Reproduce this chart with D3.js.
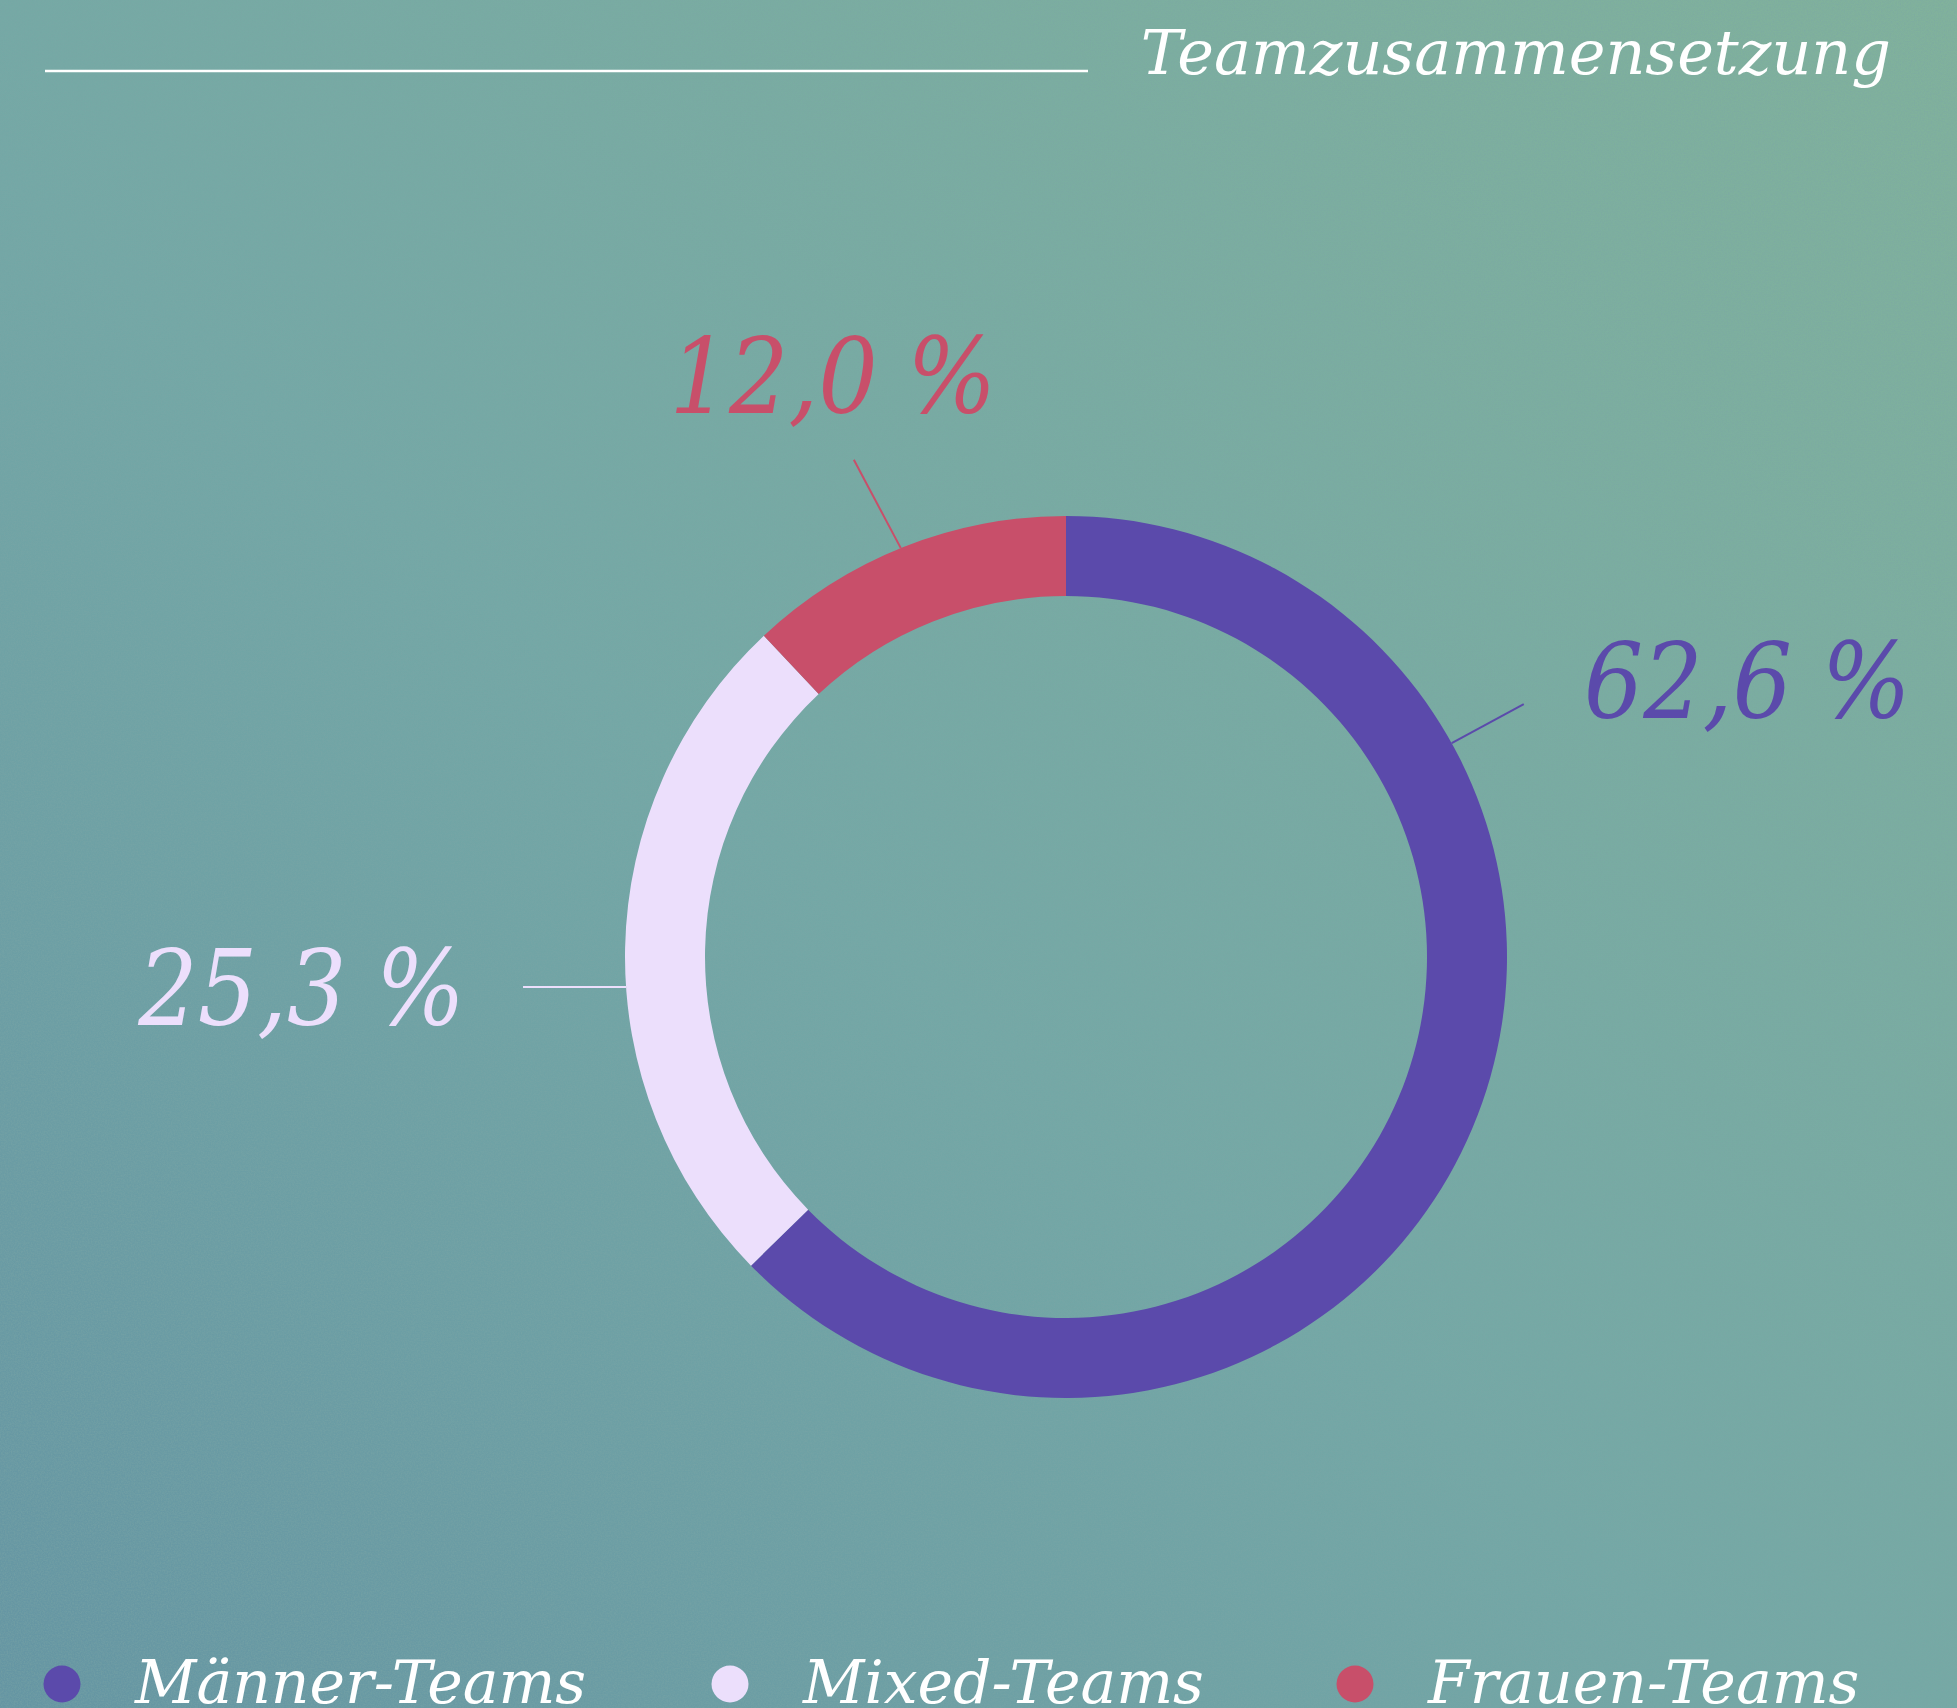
<!DOCTYPE html>
<html lang="de">
<head>
  <meta charset="UTF-8">
  <title>Teamzusammensetzung</title>
  <script src="https://d3js.org/d3.v7.min.js"></script>
  <style>
    html, body { margin: 0; padding: 0; background: #76a9a4; }
    svg { display: block; }
    text { font-family: "DejaVu Serif", serif; font-style: italic; }
    text.value { font-family: "DejaVu Serif Condensed", "DejaVu Serif", serif; font-stretch: condensed; }
  </style>
</head>
<body>
<svg width="1957" height="1708"></svg>
<script>
  // data
  const categories = ["Männer-Teams", "Mixed-Teams", "Frauen-Teams"];
  const shares = [62.6, 25.3, 12.0];
  const palette = ["#5b4aab", "#ecdffc", "#c84f6a"];
  const title = "Teamzusammensetzung";

  const svg = d3.select("svg");
  const width = +svg.attr("width");
  const height = +svg.attr("height");

  const color = d3.scaleOrdinal(categories, palette);
  const de = d3.formatLocale({ decimal: ",", thousands: ".", grouping: [3], currency: ["", " €"] });
  const fmt = v => de.format(".1f")(v) + " %";

  // background gradient + grain
  const defs = svg.append("defs");
  const grad = defs.append("linearGradient")
    .attr("id", "bg").attr("x1", 0).attr("y1", 1).attr("x2", 1).attr("y2", 0);
  grad.append("stop").attr("offset", "0%").attr("stop-color", "#6595a3");
  grad.append("stop").attr("offset", "45%").attr("stop-color", "#74a8a6");
  grad.append("stop").attr("offset", "100%").attr("stop-color", "#81b29b");

  const noise = defs.append("filter").attr("id", "grain")
    .attr("x", 0).attr("y", 0).attr("width", "100%").attr("height", "100%");
  noise.append("feTurbulence").attr("type", "fractalNoise")
    .attr("baseFrequency", 0.7).attr("numOctaves", 2).attr("seed", 3);
  noise.append("feColorMatrix").attr("type", "matrix")
    .attr("values", "0 0 0 0 0.2  0 0 0 0 0.38  0 0 0 0 0.38  0 0 0 -1.6 1.1");

  svg.append("rect").attr("width", width).attr("height", height).attr("fill", "url(#bg)");
  svg.append("rect").attr("width", width).attr("height", height)
    .attr("filter", "url(#grain)").attr("opacity", 0.55);

  // header
  svg.append("line")
    .attr("x1", 45).attr("x2", 1088).attr("y1", 71).attr("y2", 71)
    .attr("stroke", "#fff").attr("stroke-width", 2.5);
  svg.append("text")
    .attr("x", 1891).attr("y", 74)
    .attr("text-anchor", "end")
    .attr("font-size", 62)
    .attr("fill", "#fff")
    .text(title);

  // donut
  const cx = 1066, cy = 957;
  const outerR = 441, innerR = 361;
  const pie = d3.pie().sort(null).value(d => d.value);
  const arcs = pie(categories.map((c, i) => ({ cat: c, value: shares[i] })));
  const arc = d3.arc().innerRadius(innerR).outerRadius(outerR);

  const g = svg.append("g").attr("transform", `translate(${cx},${cy})`);
  g.selectAll("path.slice")
    .data(arcs)
    .join("path")
    .attr("class", "slice")
    .attr("d", arc)
    .attr("fill", d => color(d.data.cat));

  // leader lines + value labels
  const rad = Math.PI / 180;
  const leaders = [
    { at: 61, dir: 61.5, len: 82, dx: 60, dy: 14, anchor: "start" },
    { at: 266.1, dir: 270, len: 103, dx: -58, dy: 38, anchor: "end" },
    { at: 338, dir: 332, len: 100, dx: -21, dy: -47, anchor: "middle" }
  ];
  arcs.forEach((d, i) => {
    const L = leaders[i];
    const x0 = Math.sin(L.at * rad) * outerR, y0 = -Math.cos(L.at * rad) * outerR;
    const x1 = x0 + Math.sin(L.dir * rad) * L.len, y1 = y0 - Math.cos(L.dir * rad) * L.len;
    const c = color(d.data.cat);
    g.append("line")
      .attr("x1", x0).attr("y1", y0).attr("x2", x1).attr("y2", y1)
      .attr("stroke", c).attr("stroke-width", 2);
    g.append("text")
      .attr("class", "value")
      .attr("x", x1 + L.dx).attr("y", y1 + L.dy)
      .attr("text-anchor", L.anchor)
      .attr("font-size", 104)
      .attr("fill", c)
      .text(fmt(d.data.value));
  });

  // legend
  const legendX = [62, 730, 1355];
  const legend = svg.append("g").selectAll("g")
    .data(categories)
    .join("g")
    .attr("transform", (d, i) => `translate(${legendX[i]},1684)`);
  legend.append("circle").attr("r", 18.5).attr("fill", d => color(d));
  legend.append("text")
    .attr("x", 73).attr("y", 19)
    .attr("font-size", 60)
    .attr("fill", "#fff")
    .text(d => d);
</script>
</body>
</html>
